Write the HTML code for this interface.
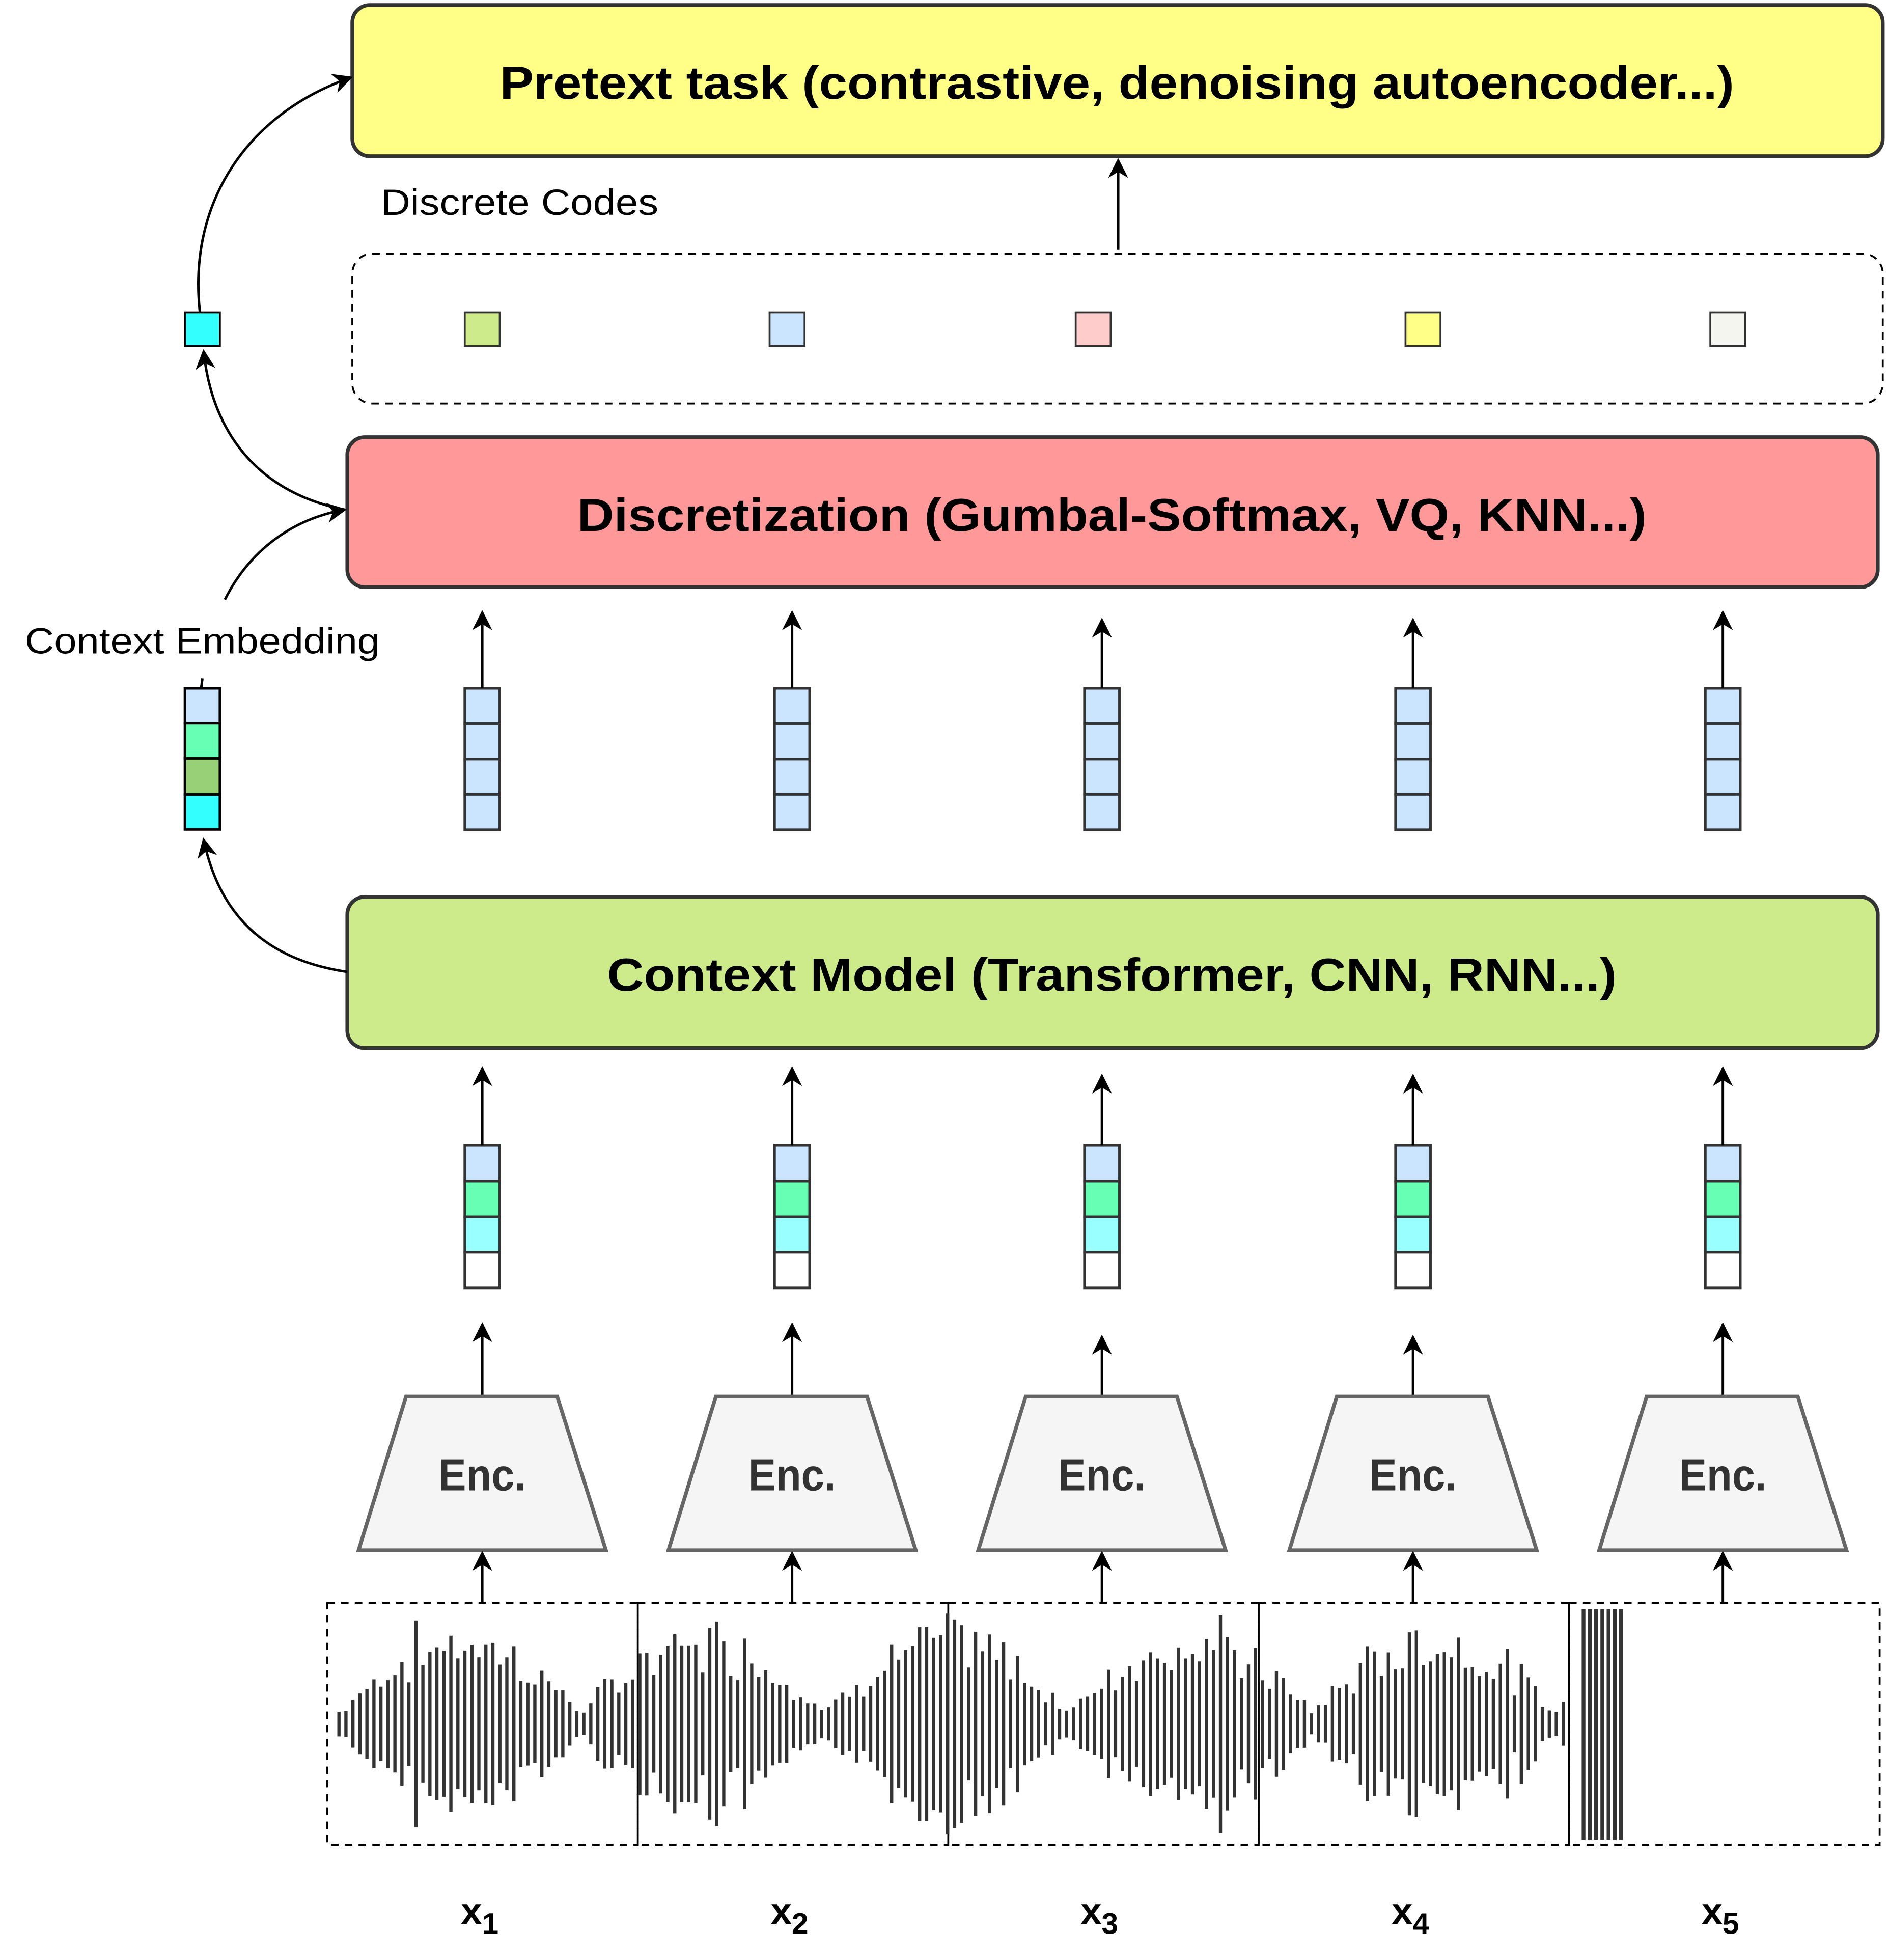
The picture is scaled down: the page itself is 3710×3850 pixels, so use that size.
<!DOCTYPE html>
<html><head><meta charset="utf-8"><style>
html,body{margin:0;padding:0;background:#fff;}
svg{display:block;}
text{font-family:"Liberation Sans",sans-serif;}
</style></head><body>
<svg id="s" width="3710" height="3850" viewBox="0 0 1512 1569" xmlns="http://www.w3.org/2000/svg">
<defs>
<marker id="b" viewBox="0 0 10 10" refX="9" refY="5" markerWidth="16" markerHeight="18" orient="auto" markerUnits="userSpaceOnUse"><path d="M0,0 L10,5 L0,10 L3,5 z" fill="#000"/></marker></defs>
<rect width="1512" height="1569" fill="#fff"/>
<rect x="282" y="4" width="1225" height="121" rx="14" fill="#ffff88" stroke="#333" stroke-width="3"/>
<text x="400" y="79" font-size="37" font-weight="bold" textLength="988" lengthAdjust="spacingAndGlyphs">Pretext task (contrastive, denoising autoencoder...)</text>
<text x="305" y="172" font-size="29" textLength="222" lengthAdjust="spacingAndGlyphs">Discrete Codes</text>
<rect x="282" y="203" width="1225" height="120" rx="16" fill="none" stroke="#000" stroke-width="1.5" stroke-dasharray="6,5"/>
<g stroke="#333" stroke-width="1.5">
<rect x="372" y="250" width="28" height="27" fill="#cdeb8b"/>
<rect x="616" y="250" width="28" height="27" fill="#cce5ff"/>
<rect x="861" y="250" width="28" height="27" fill="#ffcccc"/>
<rect x="1125" y="250" width="28" height="27" fill="#ffff88"/>
<rect x="1369" y="250" width="28" height="27" fill="#f5f5f0"/>
<rect x="148" y="250" width="28" height="27" fill="#33ffff" stroke="#000"/>
</g>
<line x1="895" y1="200" x2="895" y2="128" stroke="#000" stroke-width="2" marker-end="url(#b)"/>
<rect x="278" y="350" width="1225" height="120" rx="14" fill="#ff9999" stroke="#333" stroke-width="3"/>
<text x="462" y="425" font-size="37" font-weight="bold" textLength="856" lengthAdjust="spacingAndGlyphs">Discretization (Gumbal-Softmax, VQ, KNN...)</text>
<text x="20" y="523" font-size="29" textLength="284" lengthAdjust="spacingAndGlyphs">Context Embedding</text>
<line x1="162" y1="543" x2="161" y2="551" stroke="#000" stroke-width="2"/>
<g stroke="#000" stroke-width="2">
<rect x="148" y="551" width="28" height="28" fill="#cce5ff"/>
<rect x="148" y="579" width="28" height="28" fill="#66ffb3"/>
<rect x="148" y="607" width="28" height="29" fill="#97d077"/>
<rect x="148" y="636" width="28" height="28" fill="#33ffff"/>
</g>
<rect x="278" y="718" width="1225" height="121" rx="14" fill="#cdeb8b" stroke="#333" stroke-width="3"/>
<text x="486" y="793" font-size="37" font-weight="bold" textLength="808" lengthAdjust="spacingAndGlyphs">Context Model (Transformer, CNN, RNN...)</text>
<g fill="none" stroke="#000" stroke-width="2">
<path d="M278,778 C210,768 175,730 163,672" marker-end="url(#b)"/>
<path d="M180,480 C200,440 235,415 276,408" marker-end="url(#b)"/>
<path d="M276,408 C210,395 170,350 163,281" marker-end="url(#b)"/>
<path d="M160,250 C150,160 200,90 281,62" marker-end="url(#b)"/>
</g>
<g id="cols"></g>
<g id="wave" fill="#333"></g>
</svg>
<script>
var ns="http://www.w3.org/2000/svg";
function el(p,t,a,txt){var e=document.createElementNS(ns,t);for(var k in a)e.setAttribute(k,a[k]);if(txt)e.textContent=txt;document.getElementById(p).appendChild(e);return e;}
var cx=[386,634,882,1131,1379];
var subs=["1","2","3","4","5"];
cx.forEach(function(c,i){
 var x=c-14;
 ["#cce5ff","#cce5ff","#cce5ff","#cce5ff"].forEach(function(f,j){el("cols","rect",{x:x,y:551+j*28.3,width:28,height:28.3,fill:f,stroke:"#333","stroke-width":2});});
 el("cols","line",{x1:c,y1:551,x2:c,y2:490+(i==2||i==3?6:0),stroke:"#000","stroke-width":2,"marker-end":"url(#b)"});
 ["#cce5ff","#66ffb3","#99ffff","#ffffff"].forEach(function(f,j){el("cols","rect",{x:x,y:917+j*28.5,width:28,height:28.5,fill:f,stroke:"#333","stroke-width":2});});
 el("cols","line",{x1:c,y1:917,x2:c,y2:855+(i==2||i==3?6:0),stroke:"#000","stroke-width":2,"marker-end":"url(#b)"});
 el("cols","line",{x1:c,y1:1118,x2:c,y2:1060+(i==2||i==3?10:0),stroke:"#000","stroke-width":2,"marker-end":"url(#b)"});
 el("cols","path",{d:"M"+(c-61)+",1118 L"+(c+60)+",1118 L"+(c+99)+",1241 L"+(c-99)+",1241 Z",fill:"#f5f5f5",stroke:"#666","stroke-width":3});
 el("cols","text",{x:c-35,y:1193,"font-size":36,fill:"#333","font-weight":"bold",textLength:70,lengthAdjust:"spacingAndGlyphs"},"Enc.");
 el("cols","line",{x1:c,y1:1283,x2:c,y2:1243,stroke:"#000","stroke-width":2,"marker-end":"url(#b)"});
 el("cols","rect",{x:262+i*248.5,y:1283,width:248.5,height:194,fill:"none",stroke:"#000","stroke-width":1.5,"stroke-dasharray":"6,5"});
 var t=el("cols","text",{x:c-17,y:1540,"font-size":30,"font-weight":"bold"},"x");
 var s=document.createElementNS(ns,"tspan");s.setAttribute("font-size","24");s.setAttribute("dy","8");s.textContent=subs[i];t.appendChild(s);
});
var seed=7;function r(){seed=(seed*9301+49297)%233280;return seed/233280;}
for(var x=270;x<1254;x+=5.6){
 var env=Math.abs(Math.sin((x-270)/62))*0.85+0.15;
 var h=Math.max(3,env*(60+r()*30)*(0.6+r()*0.5));
 el("wave","rect",{x:x,y:1380-h,width:2.6,height:2*h});
}
for(var x=1266;x<1298;x+=5)el("wave","rect",{x:x,y:1288,width:3,height:185});
</script>
</body></html>
